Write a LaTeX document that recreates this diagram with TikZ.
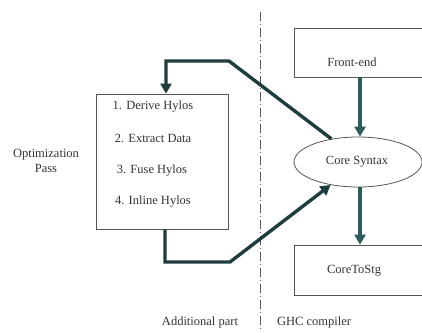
\documentclass[tikz,border=0pt]{standalone}
\usepackage{fontspec}
\setmainfont{Liberation Serif}
\usetikzlibrary{arrows.meta,shapes.geometric}
\definecolor{arrowc}{HTML}{1F3C3E}
\definecolor{vertc}{HTML}{2E5B5C}
\definecolor{boxc}{HTML}{555555}
\definecolor{txtc}{HTML}{333333}
\begin{document}
\begin{tikzpicture}[x=1pt,y=-1pt,
  font=\fontsize{12.5}{14}\selectfont, text=txtc,
  boxed/.style={draw=boxc, line width=0.8pt, rectangle, inner sep=0pt},
  flow/.style={draw=arrowc, line width=3.4pt, line join=miter, -{Triangle[length=10pt,width=11pt]}},
  vflow/.style={draw=vertc, line width=3.4pt, -{Triangle[length=10pt,width=11pt]}},
  lbl/.style={inner sep=0pt, align=center}]
\clip (0,0) rectangle (422,332);
\useasboundingbox (0,0) rectangle (422,332);
% separator
\draw[boxc, line width=0.7pt, dash pattern=on 9pt off 3pt on 1pt off 3pt] (260,12) -- (260,332);
% right column
\node[boxed, minimum width=132pt, minimum height=49pt] (fe) at (360,52.5) {};
\node[lbl] (fet) at (352,62) {Front-end};
\node[draw=boxc, line width=0.8pt, ellipse, minimum width=128pt, minimum height=50pt, inner sep=0pt] (cs) at (358,162) {};
\node[lbl] (cst) at (357,162) {Core Syntax};
\node[boxed, minimum width=132pt, minimum height=50pt] (cg) at (360,270) {};
\node[lbl] (cgt) at (354,271) {CoreToStg};
% left box
\node[boxed, minimum width=132pt, minimum height=135pt] (opt) at (162,161.5) {};
\node[lbl] (s1) at (153,107) {1. Derive Hylos};
\node[lbl] (s2) at (153,138) {2. Extract Data};
\node[lbl] (s3) at (152,171) {3. Fuse Hylos};
\node[lbl] (s4) at (153,202) {4. Inline Hylos};
\node[lbl] (op) at (46,161) {Optimization\\[1pt]Pass};
\node[lbl] (ap) at (200,322) {Additional part};
\node[lbl] (gc) at (314,322) {GHC compiler};
% connectors
\draw[vflow] (fe.south -| 360,0) -- (cs.north -| 360,0);
\draw[vflow] (cs.south -| 360,0) -- (cg.north -| 360,0);
\coordinate (a1) at (229,61);
\coordinate (a2) at (166,61);
\coordinate (b1) at (165,262);
\coordinate (b2) at (230,262);
\draw[flow] (cs.139) -- (a1) -- (a2) -- (opt.north -| a2);
\draw[flow] (opt.south -| b1) -- (b1) -- (b2) -- (cs.220);
\end{tikzpicture}
\end{document}
